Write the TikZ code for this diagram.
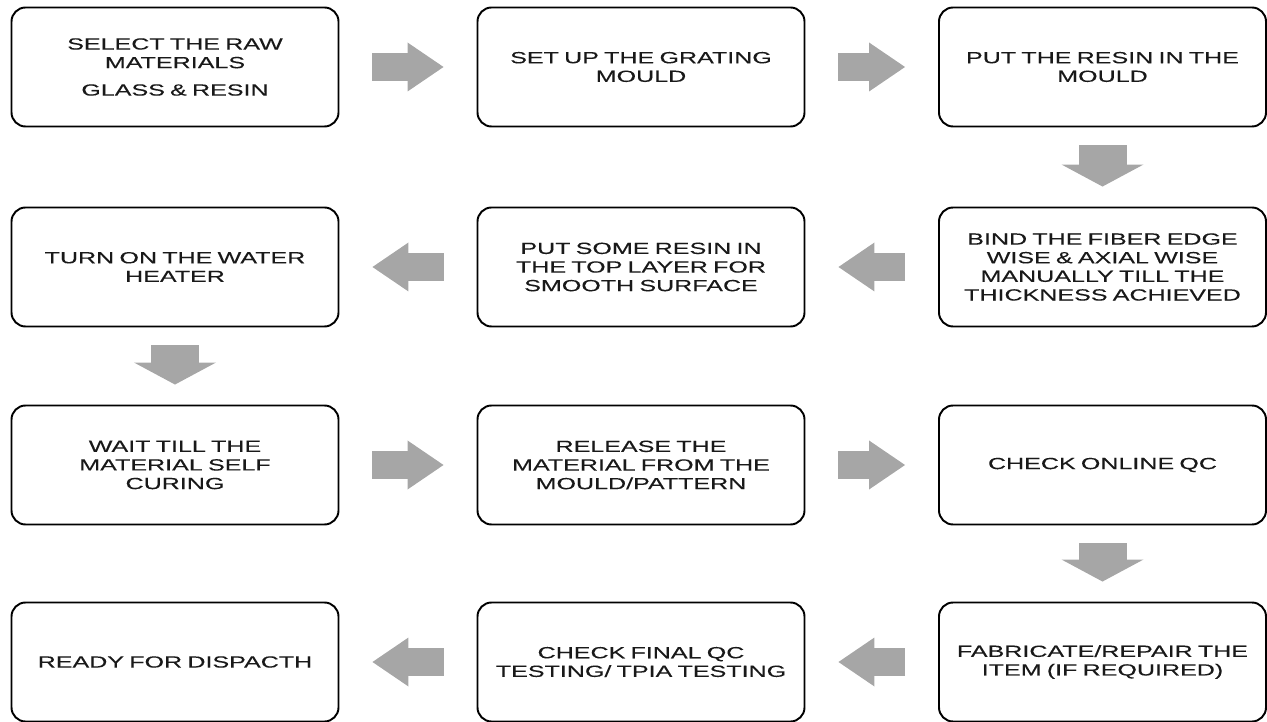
\documentclass[tikz,border=0pt]{standalone}
\usepackage{fontspec}
\setmainfont[FakeStretch=1.55, WordSpace=0.75, FakeBold=0.15]{Liberation Sans}
\usetikzlibrary{arrows.meta}

\begin{document}
\begin{tikzpicture}[
    stepbox/.style={draw, line width=1.1pt, rounded corners=8pt, minimum width=6.54cm, minimum height=2.38cm, inner sep=0pt, align=center, text=black!90, font=\fontsize{9.2}{10.6}\selectfont},
    flow/.style={draw=black!35, line width=0.56cm, shorten <=0.66cm, shorten >=0.66cm, -{Triangle[length=0.72cm, width=0.98cm, line width=0pt]}},
    flowdown/.style={draw=black!35, line width=0.96cm, shorten <=0.36cm, shorten >=0.40cm, -{Triangle[length=0.44cm, width=1.64cm, line width=0pt]}}
]
\useasboundingbox (0, 0) rectangle (25.34, -14.44);

% Row 1 (left to right)
\node[stepbox] (raw)      at (3.50, -1.34)  {SELECT THE RAW\\MATERIALS\\[5pt]GLASS \& RESIN};
\node[stepbox] (mould)    at (12.82, -1.34) {SET UP THE GRATING\\MOULD};
\node[stepbox] (resin)    at (22.05, -1.34) {PUT THE RESIN IN THE\\MOULD};

% Row 2 (right to left)
\node[stepbox] (bind)     at (22.05, -5.34) {BIND THE FIBER EDGE\\WISE \& AXIAL WISE\\MANUALLY TILL THE\\THICKNESS ACHIEVED};
\node[stepbox] (smooth)   at (12.82, -5.34) {PUT SOME RESIN IN\\THE TOP LAYER FOR\\SMOOTH SURFACE};
\node[stepbox] (heater)   at (3.50, -5.34)  {TURN ON THE WATER\\HEATER};

% Row 3 (left to right)
\node[stepbox] (curing)   at (3.50, -9.30)  {WAIT TILL THE\\MATERIAL SELF\\CURING};
\node[stepbox] (release)  at (12.82, -9.30) {RELEASE THE\\MATERIAL FROM THE\\MOULD/PATTERN};
\node[stepbox] (online)   at (22.05, -9.30) {CHECK ONLINE QC};

% Row 4 (right to left)
\node[stepbox] (repair)   at (22.05, -13.24) {FABRICATE/REPAIR THE\\ITEM (IF REQUIRED)};
\node[stepbox] (final)    at (12.82, -13.24) {CHECK FINAL QC\\TESTING/ TPIA TESTING};
\node[stepbox] (dispatch) at (3.50, -13.24)  {READY FOR DISPACTH};

% Connections
\draw[flow] (raw) -- (mould);
\draw[flow] (mould) -- (resin);
\draw[flowdown] (resin) -- (bind);
\draw[flow] (bind) -- (smooth);
\draw[flow] (smooth) -- (heater);
\draw[flowdown] (heater) -- (curing);
\draw[flow] (curing) -- (release);
\draw[flow] (release) -- (online);
\draw[flowdown] (online) -- (repair);
\draw[flow] (repair) -- (final);
\draw[flow] (final) -- (dispatch);
\end{tikzpicture}
\end{document}
